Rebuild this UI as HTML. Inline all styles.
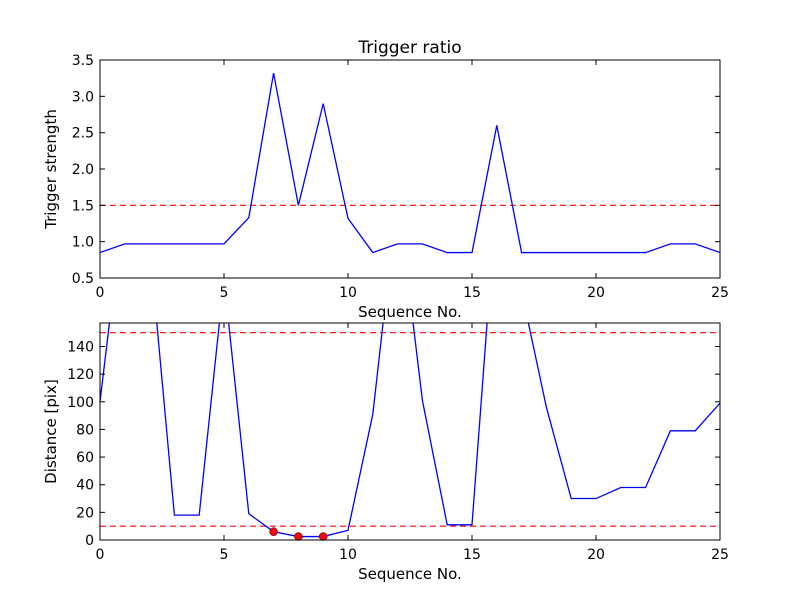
<!DOCTYPE html>
<html><head><meta charset="utf-8"><style>
body{margin:0;background:#fff;}
svg{font-family:"DejaVu Sans","Liberation Sans",sans-serif;}
</style></head><body>
<svg id="c" width="800" height="600" viewBox="0 0 800 600">
<rect width="800" height="600" fill="#fff"/>
</svg>
<script>
const seq = [0,1,2,3,4,5,6,7,8,9,10,11,12,13,14,15,16,17,18,19,20,21,22,23,24,25];
const strength = [0.85,0.97,0.97,0.97,0.97,0.97,1.33,3.32,1.5,2.9,1.32,0.85,0.97,0.97,0.85,0.85,2.6,0.85,0.85,0.85,0.85,0.85,0.85,0.97,0.97,0.85];
const distance = [100,250,214,18,18,189,19,6,2.5,2.5,7,91,250,101,11,11,251,180,96,30,30,38,38,79,79,99];
const markerIdx = [7,8,9];
const xTicks = [0,5,10,15,20,25];
const topTicks = [0.5,1.0,1.5,2.0,2.5,3.0,3.5];
const botTicks = [0,20,40,60,80,100,120,140];
const topThreshold = 1.5;
const botThresholds = [10,150];

const NS="http://www.w3.org/2000/svg";
const svg=document.getElementById('c');
function mk(tag,attrs,parent){const e=document.createElementNS(NS,tag);for(const k in attrs)e.setAttribute(k,attrs[k]);(parent||svg).appendChild(e);return e;}
const X0=100,X1=720;
const sx=v=>X0+(v-0)/(25-0)*(X1-X0);
function panel(name,top,bot,ymin,ymax,ticks,fmt,vals,thr,ylabel,title,markers){
  const sy=v=>bot-(v-ymin)/(ymax-ymin)*(bot-top);
  const g=mk('g',{});
  
  
  const cid='clip-'+name;
  const cp=mk('clipPath',{id:cid},g);mk('rect',{x:X0,y:top,width:X1-X0,height:bot-top},cp);
  thr.forEach(t=>{const l=mk('line',{x1:X0,x2:X1,y1:sy(t),y2:sy(t),stroke:'#ff0000','stroke-width':1.2,'stroke-dasharray':'6,4','clip-path':`url(#${cid})`},g);
    
    });
  const p=mk('polyline',{points:seq.map((s,i)=>sx(s)+','+sy(vals[i])).join(' '),fill:'none',stroke:'#0000ff','stroke-width':1.3,'clip-path':`url(#${cid})`},g);
  
  
  (markers||[]).forEach(i=>{const c=mk('circle',{cx:sx(seq[i]),cy:sy(vals[i]),r:4,fill:'#ff0000',stroke:'#000','stroke-width':0.5},g);
    
    });
  const f=mk('rect',{x:X0,y:top,width:X1-X0,height:bot-top,fill:'none',stroke:'#000','stroke-width':1},g);
  
  
  xTicks.forEach(t=>{const x=sx(t);
    mk('line',{x1:x,x2:x,y1:bot,y2:bot-5,stroke:'#000'},g);mk('line',{x1:x,x2:x,y1:top,y2:top+5,stroke:'#000'},g);
    const tx=mk('text',{x:x,y:bot+19,'text-anchor':'middle','font-size':14},g);tx.textContent=t;
    
    });
  ticks.forEach(t=>{const y=sy(t);
    mk('line',{x1:X0,x2:X0+5,y1:y,y2:y,stroke:'#000'},g);mk('line',{x1:X1,x2:X1-5,y1:y,y2:y,stroke:'#000'},g);
    const tx=mk('text',{x:X0-6,y:y+5,'text-anchor':'end','font-size':14},g);tx.textContent=fmt(t);
    
    });
  const xl=mk('text',{x:(X0+X1)/2,y:bot+39,'text-anchor':'middle','font-size':15},g);xl.textContent='Sequence No.';
  
  
  const yl=mk('text',{x:0,y:0,'text-anchor':'middle','font-size':15,transform:`translate(56,${(top+bot)/2}) rotate(-90)`},g);yl.textContent=ylabel;
  
  
  if(title){const tt=mk('text',{x:(X0+X1)/2,y:top-7,'text-anchor':'middle','font-size':17},g);tt.textContent=title;
    
    }
}
panel('top-panel',60,278,0.5,3.5,topTicks,t=>t.toFixed(1),strength,[topThreshold],'Trigger strength','Trigger ratio');
panel('bottom-panel',323,540,0,157,botTicks,t=>String(t),distance,botThresholds,'Distance [pix]',null,markerIdx);
</script>
</body></html>
